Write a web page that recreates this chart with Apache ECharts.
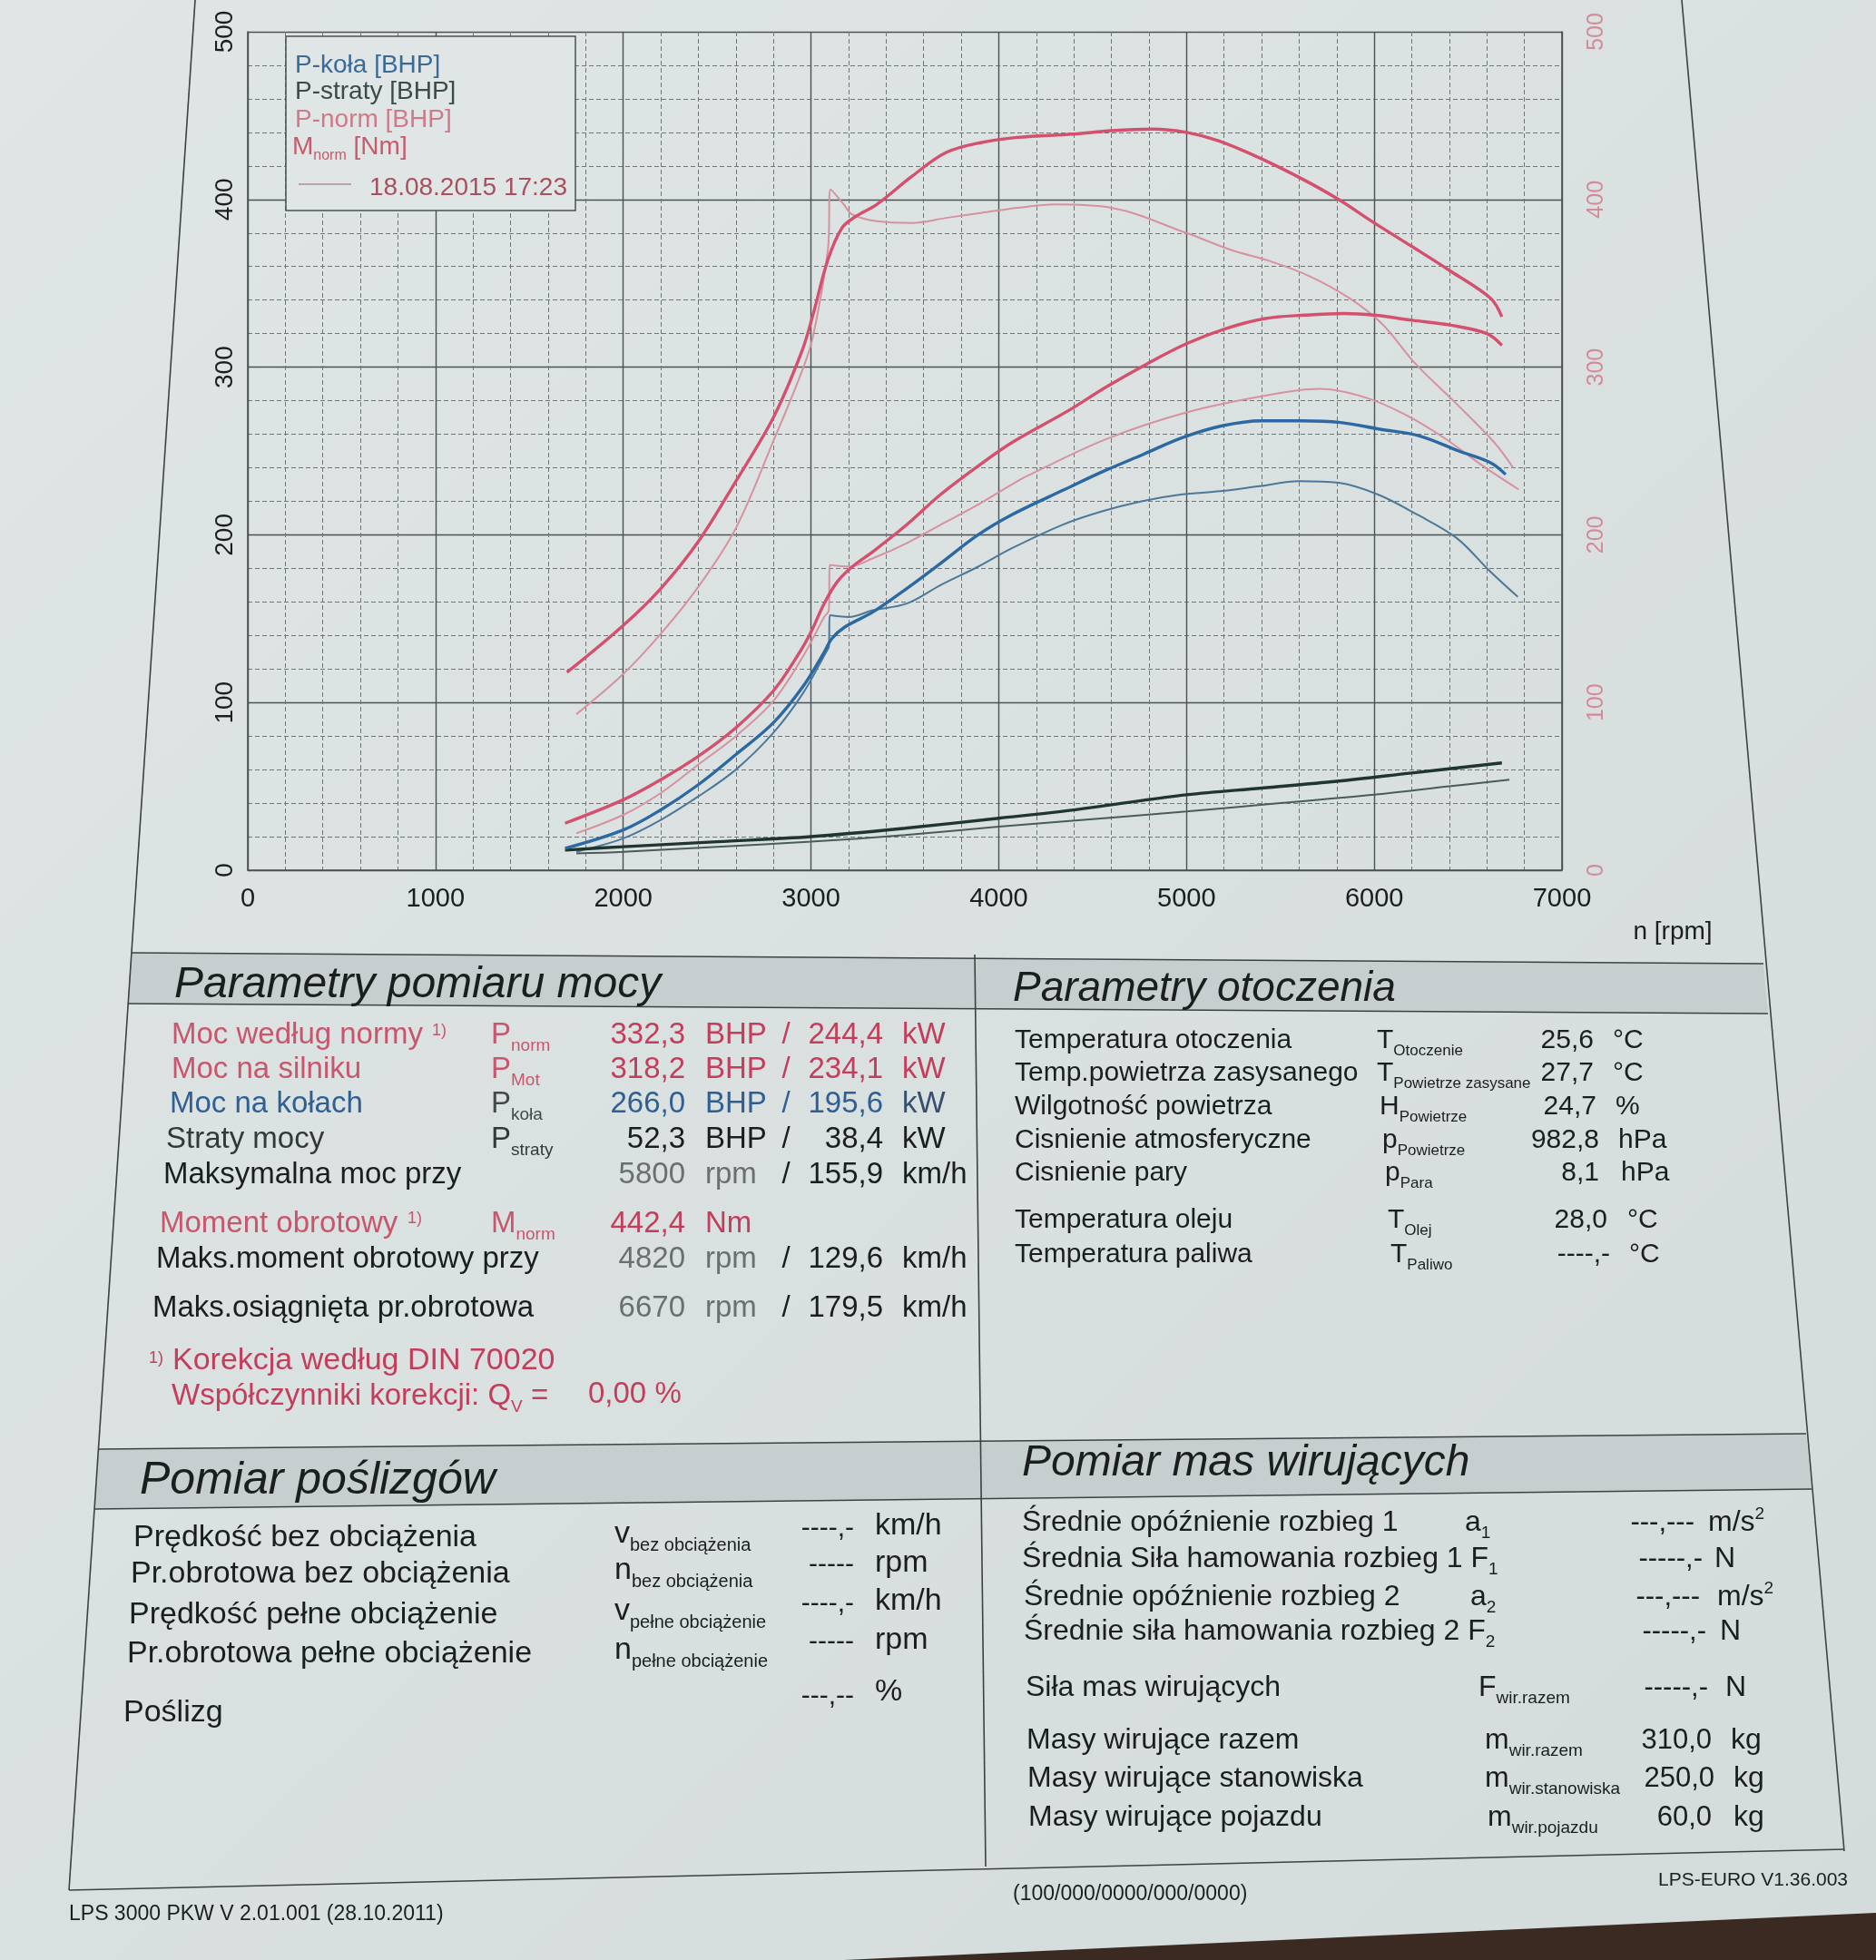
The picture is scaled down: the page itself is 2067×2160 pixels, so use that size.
<!DOCTYPE html>
<html><head><meta charset="utf-8">
<script src="https://cdn.jsdelivr.net/npm/echarts@6/dist/echarts.min.js"></script>
<style>html,body{margin:0;padding:0;background:#dbe2e2}#c{width:2067px;height:2160px}</style>
</head><body><div id="c"></div><script>
// ---------------- DATA (read from the dyno sheet) ----------------
// [rpm, value]  power in BHP (left axis), torque in Nm (right axis)
const pNormMain = [[1690,28],[2000,42],[2200,54],[2400,68],[2600,85],[2800,107],[2940,130],[3000,142],[3070,159],[3140,172],[3220,181],[3330,190],[3510,206],[3690,224],[3890,241],[4070,255],[4370,274],[4570,288],[4790,302],[5000,314],[5210,323],[5420,329],[5630,331],[5840,332],[6000,331],[6200,328],[6410,325],[6600,320],[6680,313]];
const pNormPrev = [[1750,22],[2000,33],[2200,46],[2400,63],[2600,80],[2800,101],[2960,128],[3070,151],[3095,155],[3100,182],[3200,181],[3330,186],[3510,195],[3690,206],[3890,218],[4070,230],[4150,235],[4570,257],[5000,273],[5420,283],[5710,287],[5950,282],[6160,272],[6370,258],[6580,241],[6770,227]];
const mNormMain = [[1700,118],[2000,146],[2200,168],[2400,196],[2600,232],[2800,270],[2950,309],[3010,331],[3090,364],[3165,383],[3240,390],[3350,397],[3540,414],[3720,428],[3910,434],[4100,437],[4400,439],[4600,441],[4820,442],[5000,440],[5170,435],[5385,425],[5620,412],[5810,400],[6000,386],[6200,372],[6410,357],[6620,341],[6680,330]];
const mNormPrev = [[1750,93],[2000,117],[2200,141],[2400,169],[2600,204],[2800,256],[2950,297],[3010,318],[3090,370],[3105,406],[3175,397],[3220,391],[3350,387],[3540,386],[3720,389],[3910,392],[4100,395],[4300,397],[4600,395],[5000,380],[5235,370],[5450,363],[5660,354],[5870,341],[6040,326],[6220,302],[6430,279],[6640,255],[6740,240]];
const pKolaMain = [[1690,13],[2000,24],[2200,36],[2400,51],[2600,69],[2800,88],[2960,110],[3070,130],[3110,138],[3180,145],[3330,154],[3510,168],[3690,183],[3890,200],[4070,212],[4350,227],[4560,238],[4770,248],[4980,258],[5190,265],[5400,268],[5610,268],[5820,267],[6030,263],[6240,259],[6450,250],[6620,243],[6700,236]];
const pKolaPrev = [[1750,11],[2000,19],[2200,30],[2400,44],[2600,60],[2800,82],[2960,106],[3085,131],[3095,133],[3100,152],[3200,151],[3330,155],[3510,159],[3690,170],[3890,181],[4070,192],[4340,206],[4550,214],[4760,220],[4970,224],[5180,226],[5390,229],[5600,232],[5810,231],[6020,224],[6230,212],[6440,198],[6610,179],[6765,163]];
const pStratyMain = [[1690,12],[2000,14],[2500,17],[3000,20],[3500,25],[4000,31],[4330,35],[4600,39],[5000,45],[5400,49],[5800,53],[6200,58],[6680,64]];
const pStratyPrev = [[1750,10],[2000,11],[2500,14],[3000,17],[3500,21],[4000,26],[4330,29],[5000,35],[5500,40],[6000,45],[6400,50],[6720,54]];
const rpmRange = [0, 7000];
const powerRange = [0, 500];
const torqueRange = [0, 500];

// ---------------- STYLE ----------------
const FF = "'Liberation Sans', Arial, Helvetica, sans-serif";
const GRIDC = '#4b5252';
const C_RED = '#d4506e', C_PINK = '#d6929f';
const C_BLUE = '#2c69a3', C_BLUE2 = '#4c7899';
const C_DARK = '#1f3530', C_DARK2 = '#4a5c57';
const T_PINK = '#c8566c', T_RED = '#c43d5a', T_BLUE = '#2f5f93', T_BLACK = '#1b1e1e', T_GRAY = '#6a6f70';

function rich(size){
  const s = Math.round(size*0.58);
  return {
    s:{fontSize:s, fontFamily:FF, padding:[Math.round(size*0.72),0,0,0]},
    sup:{fontSize:s, fontFamily:FF, padding:[0,0,Math.round(size*0.55),0]}
  };
}
function txt(x,y,text,o){
  o = o||{};
  const size = o.size||32;
  return {type:'text', x:x, y:y, z:o.z||20, silent:true,
    style:{text:text, fontSize:size, fontFamily:FF, fill:o.color||T_BLACK,
      fontStyle:o.italic?'italic':'normal', align:o.align||'left', verticalAlign:'middle', rich:rich(size)}};
}
function pl(points,o){
  o=o||{};
  return {type:'polyline', z:o.z||5, silent:true, shape:{points:points}, style:{stroke:o.color||'#3c4242', lineWidth:o.w||1.6, fill:null}};
}
function pg(points,fill,z){
  return {type:'polygon', z:z||1, silent:true, shape:{points:points}, style:{fill:fill}};
}

const G = [];
// dark table surface at the bottom right
G.push(pg([[930,2160],[2067,2108],[2067,2160]],'#3a2a22',1));
// header bands
G.push(pg([[145,1050],[1943,1062],[1948,1117],[141,1106]],'#c7cecf',2));
G.push(pg([[108,1597],[1990,1580],[1996,1641],[104,1663]],'#c7cecf',2));
// frame lines
G.push(pl([[215,0],[76,2083]]));
G.push(pl([[1853,0],[2032,2040]]));
G.push(pl([[145,1050],[1943,1062]]));
G.push(pl([[141,1106],[1948,1117]]));
G.push(pl([[108,1597],[1990,1580]]));
G.push(pl([[104,1663],[1996,1641]]));
G.push(pl([[76,2083],[2032,2038]]));
G.push(pl([[1074,1052],[1086,2057]]));

// legend box
G.push({type:'rect', z:50, silent:true, shape:{x:315,y:40,width:319,height:192}, style:{fill:'#e0e6e6', stroke:'#4a5050', lineWidth:1.5}});
G.push(txt(325,72,'P-koła [BHP]',{size:28,color:'#3a6a98',z:51}));
G.push(txt(325,101,'P-straty [BHP]',{size:28,color:'#3b4b46',z:51}));
G.push(txt(325,132,'P-norm [BHP]',{size:28,color:'#cf7a88',z:51}));
G.push(txt(322,162,'M{s|norm} [Nm]',{size:28,color:'#c95a6b',z:51}));
G.push({type:'line', z:51, silent:true, shape:{x1:329,y1:203,x2:387,y2:203}, style:{stroke:'#b58a92', lineWidth:1.5}});
G.push(txt(625,207,'18.08.2015 17:23',{size:28,color:'#a9505f',align:'right',z:51}));
G.push(txt(1843,1027,'n [rpm]',{size:28,color:T_BLACK,align:'center'}));

// ---- Table 1: Parametry pomiaru mocy
G.push(txt(192,1086,'Parametry pomiaru mocy',{size:48,italic:true}));
function row1(y,x,label,lc,sym,sc,v1,u1,v2,u2,vc,c1,c2){
  G.push(txt(x,y,label,{size:33,color:lc}));
  if(sym) G.push(txt(541,y,sym,{size:33,color:sc}));
  G.push(txt(755,y,v1,{size:33,color:c1||vc,align:'right'}));
  G.push(txt(777,y,u1,{size:33,color:c1||vc}));
  if(v2!==null){
    G.push(txt(866,y,'/',{size:33,color:vc,align:'center'}));
    G.push(txt(973,y,v2,{size:33,color:vc,align:'right'}));
    G.push(txt(994,y,u2,{size:33,color:c2||vc}));
  }
}
row1(1141,189,'Moc według normy',T_PINK,'P{s|norm}',T_PINK,'332,3','BHP','244,4','kW',T_RED);
G.push(txt(476,1136,'1)',{size:18,color:T_PINK}));
row1(1179,189,'Moc na silniku',T_PINK,'P{s|Mot}',T_PINK,'318,2','BHP','234,1','kW',T_RED);
row1(1217,187,'Moc na kołach',T_BLUE,'P{s|koła}','#444a4a','266,0','BHP','195,6','kW',T_BLUE,null,'#34506e');
row1(1256,183,'Straty mocy','#333838','P{s|straty}','#333838','52,3','BHP','38,4','kW',T_BLACK);
row1(1295,180,'Maksymalna moc przy',T_BLACK,null,null,'5800','rpm','155,9','km/h',T_BLACK,T_GRAY);
row1(1349,176,'Moment obrotowy',T_PINK,'M{s|norm}',T_PINK,'442,4','Nm',null,null,T_RED);
G.push(txt(449,1343,'1)',{size:18,color:T_PINK}));
row1(1388,172,'Maks.moment obrotowy przy',T_BLACK,null,null,'4820','rpm','129,6','km/h',T_BLACK,T_GRAY);
row1(1442,168,'Maks.osiągnięta pr.obrotowa',T_BLACK,null,null,'6670','rpm','179,5','km/h',T_BLACK,T_GRAY);
G.push(txt(164,1497,'1)',{size:18,color:T_RED}));
G.push(txt(190,1500,'Korekcja według DIN 70020',{size:34,color:T_RED}));
G.push(txt(189,1539,'Współczynniki korekcji: Q{s|V} =',{size:33,color:T_RED}));
G.push(txt(648,1537,'0,00 %',{size:33,color:T_RED}));

// ---- Table 2: Parametry otoczenia
G.push(txt(1116,1090,'Parametry otoczenia',{size:46,italic:true}));
function row2(y,label,sym,sx,val,vx,unit,ux){
  G.push(txt(1118,y,label,{size:30}));
  G.push(txt(sx,y,sym,{size:30}));
  G.push(txt(vx,y,val,{size:30,align:'right'}));
  G.push(txt(ux,y,unit,{size:30}));
}
row2(1147,'Temperatura otoczenia','T{s|Otoczenie}',1517,'25,6',1756,'°C',1777);
row2(1183,'Temp.powietrza zasysanego','T{s|Powietrze zasysane}',1517,'27,7',1756,'°C',1777);
row2(1220,'Wilgotność powietrza','H{s|Powietrze}',1520,'24,7',1759,'%',1780);
row2(1257,'Cisnienie atmosferyczne','p{s|Powietrze}',1523,'982,8',1762,'hPa',1783);
row2(1293,'Cisnienie pary','p{s|Para}',1526,'8,1',1762,'hPa',1786);
row2(1345,'Temperatura oleju','T{s|Olej}',1529,'28,0',1771,'°C',1793);
row2(1383,'Temperatura paliwa','T{s|Paliwo}',1532,'----,-',1774,'°C',1795);

// ---- Table 3: Pomiar poślizgów
G.push(txt(154,1632,'Pomiar poślizgów',{size:50,italic:true}));
function row3(y,x,label,sym,val,vy,unit,uy){
  G.push(txt(x,y,label,{size:34}));
  if(sym) G.push(txt(677,y-4,sym,{size:34}));
  G.push(txt(941,vy,val,{size:30,align:'right'}));
  G.push(txt(964,uy,unit,{size:34}));
}
row3(1695,147,'Prędkość bez obciążenia','v{s|bez obciążenia}','----,-',1685,'km/h',1682);
row3(1735,144,'Pr.obrotowa bez obciążenia','n{s|bez obciążenia}','-----',1725,'rpm',1723);
row3(1780,142,'Prędkość pełne obciążenie','v{s|pełne obciążenie}','----,-',1768,'km/h',1765);
row3(1823,140,'Pr.obrotowa pełne obciążenie','n{s|pełne obciążenie}','-----',1810,'rpm',1808);
row3(1888,136,'Poślizg',null,'---,--',1870,'%',1865);

// ---- Table 4: Pomiar mas wirujących
G.push(txt(1126,1613,'Pomiar mas wirujących',{size:48,italic:true}));
function row4(y,x,label,sym,sx,val,vx,unit,ux){
  G.push(txt(x,y,label,{size:32}));
  if(sym) G.push(txt(sx,y,sym,{size:32}));
  G.push(txt(vx,y,val,{size:31,align:'right'}));
  G.push(txt(ux,y,unit,{size:32}));
}
row4(1678,1126,'Średnie opóźnienie rozbieg 1','a{s|1}',1614,'---,---',1867,'m/s{sup|2}',1882);
row4(1718,1126,'Średnia Siła hamowania rozbieg 1 F{s|1}',null,0,'-----,-',1876,'N',1889);
row4(1760,1128,'Średnie opóźnienie rozbieg 2','a{s|2}',1620,'---,---',1873,'m/s{sup|2}',1892);
row4(1798,1128,'Średnie siła hamowania rozbieg 2 F{s|2}',null,0,'-----,-',1880,'N',1895);
row4(1860,1130,'Siła mas wirujących','F{s|wir.razem}',1629,'-----,-',1882,'N',1901);
row4(1918,1131,'Masy wirujące razem','m{s|wir.razem}',1636,'310,0',1886,'kg',1907);
row4(1960,1132,'Masy wirujące stanowiska','m{s|wir.stanowiska}',1636,'250,0',1889,'kg',1910);
row4(2003,1133,'Masy wirujące pojazdu','m{s|wir.pojazdu}',1639,'60,0',1886,'kg',1910);

// ---- footer
G.push(txt(76,2110,'LPS 3000 PKW V 2.01.001 (28.10.2011)',{size:23}));
G.push(txt(1116,2088,'(100/000/0000/000/0000)',{size:23}));
G.push(txt(2036,2072,'LPS-EURO V1.36.003',{size:21,align:'right'}));

// ---------------- CHART ----------------
function ser(name,data,color,width,yIdx,z){
  return {name:name, type:'line', data:data, yAxisIndex:yIdx, showSymbol:false, symbol:'none',
    smooth:0.35, lineStyle:{color:color, width:width}, itemStyle:{color:color},
    emphasis:{disabled:true}, silent:true, z:z, animation:false};
}
const splitMajor = {show:true, lineStyle:{color:GRIDC, width:1.4, type:'solid'}};
const splitMinor = {show:true, lineStyle:{color:'#6e7676', width:1, type:[5,3]}};
const plain = function(v){ return String(v); };
const chart = echarts.init(document.getElementById('c'), null, {renderer:'canvas', width:2067, height:2160});
chart.setOption({
  animation:false,
  backgroundColor:{type:'linear', x:0, y:0, x2:1, y2:1, colorStops:[{offset:0,color:'#e0e6e6'},{offset:1,color:'#d4dbdb'}]},
  grid:{left:273, right:2067-1721, top:35, bottom:2160-959, containLabel:false, outerBoundsMode:'none'},
  xAxis:{type:'value', min:rpmRange[0], max:rpmRange[1], interval:1000,
    axisLine:{show:true, lineStyle:{color:GRIDC, width:1.6}}, axisTick:{show:false},
    axisLabel:{fontSize:29, color:T_BLACK, fontFamily:FF, margin:17, formatter:plain},
    splitLine:splitMajor, minorTick:{show:false, splitNumber:5}, minorSplitLine:splitMinor},
  yAxis:[
    {type:'value', min:powerRange[0], max:powerRange[1], interval:100, position:'left',
      axisLine:{show:true, lineStyle:{color:GRIDC, width:1.6}}, axisTick:{show:false},
      axisLabel:{rotate:90, fontSize:28, color:T_BLACK, fontFamily:FF, margin:11, formatter:plain},
      splitLine:splitMajor, minorTick:{show:false, splitNumber:5}, minorSplitLine:splitMinor},
    {type:'value', min:torqueRange[0], max:torqueRange[1], interval:100, position:'right',
      axisLine:{show:true, lineStyle:{color:GRIDC, width:1.6}}, axisTick:{show:false},
      axisLabel:{rotate:90, fontSize:25, color:'#d48a9a', fontFamily:FF, margin:26, formatter:plain},
      splitLine:{show:false}, minorSplitLine:{show:false}}
  ],
  series:[
    ser('P-straty (prev)', pStratyPrev, C_DARK2, 2, 0, 3),
    ser('P-koła (prev)', pKolaPrev, C_BLUE2, 2, 0, 3),
    ser('P-norm (prev)', pNormPrev, C_PINK, 2, 0, 3),
    ser('M-norm (prev)', mNormPrev, C_PINK, 2, 1, 3),
    ser('P-straty', pStratyMain, C_DARK, 3.4, 0, 4),
    ser('P-koła', pKolaMain, C_BLUE, 3.4, 0, 4),
    ser('P-norm', pNormMain, C_RED, 3.4, 0, 4),
    ser('M-norm', mNormMain, C_RED, 3.4, 1, 4)
  ],
  graphic:{elements:G}
});
</script></body></html>
